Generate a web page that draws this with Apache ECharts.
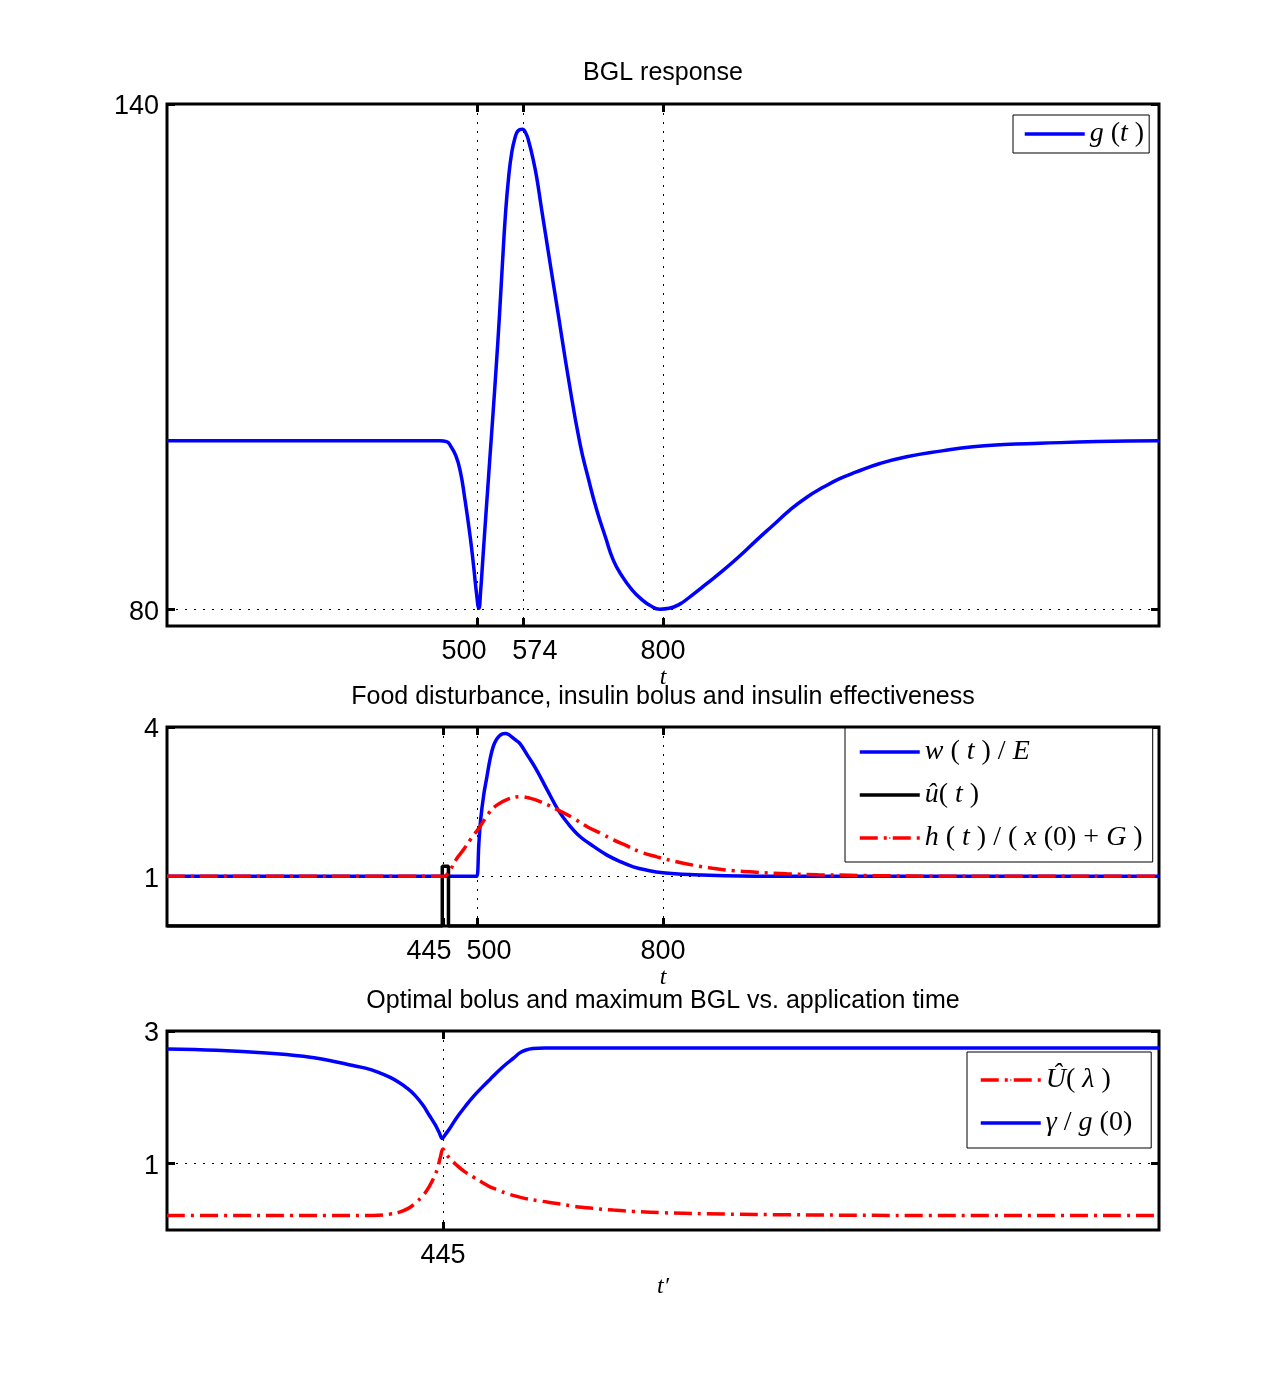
<!DOCTYPE html>
<html><head><meta charset="utf-8">
<script src="https://cdn.jsdelivr.net/npm/echarts@6/dist/echarts.min.js"></script>
<style>html,body{margin:0;padding:0;background:#fff}#c{width:1282px;height:1390px}</style>
</head><body><div id="c"></div>
<script>
// ---------- data ----------
const titles = ['BGL response', 'Food disturbance, insulin bolus and insulin effectiveness', 'Optimal bolus and maximum BGL vs. application time'];

// Panel 1: BGL response g(t)
const g_t = [0, 440, 451, 458, 466, 473, 480, 489, 495, 499, 503, 506, 509, 513, 517, 521, 526, 531, 536, 541, 546, 551, 556, 561, 566, 573, 579, 584, 590, 596, 604, 617, 630, 647, 666, 680, 693, 707, 720, 735, 750, 765, 780, 795, 810, 827, 844, 870, 897, 925, 951, 978, 1005, 1032, 1059, 1085, 1112, 1150, 1193, 1250, 1300, 1350, 1408, 1500, 1600];
const g_v = [100, 100, 99.9, 99.3, 98.2, 96.4, 93.3, 88.6, 84.8, 82.0, 80.1, 82.3, 85.5, 89.8, 94.0, 98.2, 103.4, 108.8, 114.6, 121.0, 127.0, 131.3, 134.2, 135.9, 136.8, 137.0, 136.5, 135.4, 133.6, 131.4, 127.6, 121.5, 115.5, 107.6, 99.7, 95.4, 91.8, 88.6, 85.8, 83.8, 82.3, 81.2, 80.4, 80.0, 80.1, 80.6, 81.5, 83.0, 84.6, 86.4, 88.2, 90.0, 91.8, 93.3, 94.5, 95.5, 96.3, 97.3, 98.1, 98.8, 99.3, 99.55, 99.7, 99.9, 100];

// Panel 2: w(t)/E, u^(t), h(t)/(x(0)+G)
const w_t = [0, 498, 500, 503, 506, 511, 516, 521, 526, 531, 536, 541, 546, 551, 556, 562, 569, 582, 596, 613, 631, 648, 666, 688, 709, 730, 752, 775, 800, 850, 900, 1000, 1600];
const w_v = [1, 1, 1, 1.65, 2.15, 2.65, 3.0, 3.35, 3.6, 3.74, 3.82, 3.86, 3.87, 3.85, 3.8, 3.74, 3.67, 3.42, 3.14, 2.74, 2.33, 2.04, 1.8, 1.6, 1.43, 1.3, 1.19, 1.12, 1.07, 1.03, 1.01, 1.0, 1.0];
const u_t = [0, 444, 444, 454, 454, 1600];
const u_v = [0, 0, 1.2, 1.2, 0, 0];
const h_t = [0, 448, 452, 458, 467, 478, 490, 505, 518, 532, 550, 569, 585, 602, 631, 655, 677, 700, 720, 742, 763, 790, 822, 850, 880, 915, 950, 1000, 1050, 1100, 1150, 1250, 1600];
const h_v = [1, 1, 1.04, 1.15, 1.35, 1.53, 1.75, 2.0, 2.25, 2.43, 2.55, 2.6, 2.57, 2.5, 2.33, 2.17, 2.0, 1.86, 1.73, 1.61, 1.49, 1.39, 1.29, 1.22, 1.16, 1.11, 1.08, 1.05, 1.03, 1.02, 1.01, 1.0, 1.0];

// Panel 3: U^(lambda), gamma/g(0)
const U_t = [0, 100, 200, 280, 333, 360, 375, 390, 400, 413, 422, 430, 436, 441, 445, 449, 456, 467, 480, 494, 508, 521, 535, 548, 575, 600, 629, 655, 683, 720, 752, 800, 900, 1000, 1200, 1600];
const U_v = [0.22, 0.22, 0.22, 0.22, 0.22, 0.24, 0.27, 0.33, 0.4, 0.52, 0.64, 0.78, 0.92, 1.1, 1.22, 1.16, 1.08, 0.98, 0.88, 0.8, 0.72, 0.65, 0.6, 0.55, 0.48, 0.44, 0.4, 0.36, 0.33, 0.3, 0.28, 0.26, 0.24, 0.23, 0.22, 0.22];
const G_t = [0, 80, 160, 220, 260, 300, 320, 340, 360, 375, 387, 400, 413, 423, 433, 439, 444, 449, 456, 467, 480, 494, 508, 521, 535, 548, 560, 569, 578, 590, 610, 1600];
const G_v = [2.73, 2.71, 2.67, 2.62, 2.56, 2.48, 2.44, 2.38, 2.30, 2.22, 2.14, 2.03, 1.88, 1.73, 1.58, 1.47, 1.38, 1.44, 1.53, 1.69, 1.85, 2.01, 2.15, 2.27, 2.4, 2.51, 2.6, 2.67, 2.71, 2.735, 2.745, 2.745];

// tick values
const x1Ticks = [500, 574, 800];
const x2Ticks = [445, 500, 800];
const x3Ticks = [445];
const y1Ticks = [80, 140];
const y2Ticks = [1, 4];
const y3Ticks = [1, 3];
const xRange = [0, 1600];
const y1Range = [78, 140];
const y2Range = [0, 4];
const y3Range = [0, 3];

// series names
const names = ['g(t)', 'w(t)/E', 'û(t)', 'h(t)/(x(0)+G)', 'Û(λ)', 'γ/g(0)'];

// ---------- rendering ----------
const zip = (a, b) => a.map((t, i) => [t, b[i]]);
const SANS = 'Liberation Sans, Arial, sans-serif';
const SERIF = 'Liberation Serif, Times New Roman, serif';
const MATH = 28;
const rich = {
  i: {fontFamily: SERIF, fontStyle: 'italic', fontSize: MATH, color: '#000', lineHeight: 28},
  n: {fontFamily: SERIF, fontStyle: 'normal', fontSize: MATH, color: '#000', lineHeight: 28}
};
const legendText = {
  'g(t)': '{i|g}{n| (}{i|t}{n| )}',
  'w(t)/E': '{i|w}{n| ( }{i|t}{n| ) / }{i|E}',
  'û(t)': '{i|û}{n|( }{i|t}{n| )}',
  'h(t)/(x(0)+G)': '{i|h}{n| ( }{i|t}{n| ) / ( }{i|x}{n| (0) + }{i|G}{n| )}',
  'Û(λ)': '{i|Û}{n|( }{i|λ}{n| )}',
  'γ/g(0)': '{i|γ}{n| / }{i|g}{n| (0)}'
};

const grids = [
  {left: 167, top: 104, width: 992, height: 522},
  {left: 167, top: 727, width: 992, height: 199},
  {left: 167, top: 1031, width: 992, height: 199}
].map(g => Object.assign(g, {show: true, borderColor: '#000', borderWidth: 3, backgroundColor: 'transparent', containLabel: false, outerBoundsMode: 'none'}));

const TICK = {show: true, inside: true, length: 8, lineStyle: {color: '#000', width: 3}};
const NOLINE = {show: false, onZero: false};
const gridLine = {show: true, lineStyle: {color: '#000', width: 1, type: [2, 7]}};
const labelFont = {color: '#000', fontFamily: SANS, fontSize: 27};

function xAxes(gi, ticks, shifts, name, nameGap) {
  const r = {};
  ticks.forEach((v, k) => {
    const s = shifts[k];
    r['s' + k] = Object.assign({}, labelFont, {padding: s < 0 ? [0, -2 * s, 0, 0] : [0, 0, 0, 2 * s]});
  });
  return [{
    gridIndex: gi, type: 'value', min: xRange[0], max: xRange[1], position: 'bottom',
    axisLine: NOLINE,
    axisTick: Object.assign({customValues: ticks}, TICK),
    axisLabel: Object.assign({show: true, customValues: ticks, margin: 12, rich: r,
      formatter: v => { const k = ticks.indexOf(v); return '{s' + k + '|' + v + '}'; }}, labelFont),
    splitLine: gridLine,
    name: name, nameLocation: 'middle', nameGap: nameGap,
    nameTextStyle: {color: '#000', fontFamily: SERIF, fontStyle: 'italic', fontSize: 24,
      rich: {i: {fontFamily: SERIF, fontStyle: 'italic', fontSize: 24, color: '#000'}, p: {fontFamily: SERIF, fontSize: 24, color: '#000'}}}
  }, {
    gridIndex: gi, type: 'value', min: xRange[0], max: xRange[1], position: 'top',
    axisLine: NOLINE,
    axisTick: Object.assign({customValues: ticks}, TICK),
    axisLabel: {show: false}, splitLine: {show: false}
  }];
}
function yAxes(gi, range, ticks) {
  return [{
    gridIndex: gi, type: 'value', min: range[0], max: range[1], position: 'left',
    axisLine: NOLINE,
    axisTick: Object.assign({customValues: ticks}, TICK),
    axisLabel: Object.assign({show: true, customValues: ticks, margin: 8,
      formatter: v => '{a|' + v + '}', rich: {a: Object.assign({padding: [6, 0, 0, 0]}, labelFont)}}, labelFont),
    splitLine: gridLine
  }, {
    gridIndex: gi, type: 'value', min: range[0], max: range[1], position: 'right',
    axisLine: NOLINE,
    axisTick: Object.assign({customValues: ticks}, TICK),
    axisLabel: {show: false}, splitLine: {show: false}
  }];
}

const xAxis = [].concat(
  xAxes(0, x1Ticks, [-13, 12, 0], 't', 40),
  xAxes(1, x2Ticks, [-14, 12, 0], 't', 39),
  xAxes(2, x3Ticks, [0], '{i|t}{p|′}', 45)
);
const yAxis = [].concat(yAxes(0, y1Range, y1Ticks), yAxes(1, y2Range, y2Ticks), yAxes(2, y3Range, y3Ticks));

const BLUE = '#0000ff', RED = '#ff0000', BLACK = '#000000';
const LW = 3.5;
const dashDot = [18, 6, 3, 6];
function line(name, xi, data, color, type, smooth, z) {
  return {
    name: name, type: 'line', xAxisIndex: xi, yAxisIndex: xi, data: data,
    symbol: 'none', smooth: smooth, z: z, silent: true,
    lineStyle: {color: color, width: LW, type: type},
    itemStyle: {color: color}
  };
}
const series = [
  line(names[0], 0, zip(g_t, g_v), BLUE, 'solid', 0.5, 3),
  line(names[1], 2, zip(w_t, w_v), BLUE, 'solid', 0.4, 3),
  line(names[2], 2, zip(u_t, u_v), BLACK, 'solid', false, 4),
  line(names[3], 2, zip(h_t, h_v), RED, dashDot, 0.4, 5),
  line(names[4], 4, zip(U_t, U_v), RED, dashDot, 0.4, 3),
  line(names[5], 4, zip(G_t, G_v), BLUE, 'solid', 0.4, 4)
];

function legend(data, left, top, padding) {
  return {
    data: data, orient: 'vertical', left: left, top: top, padding: padding,
    itemGap: 15, itemWidth: 60, itemHeight: 2,
    backgroundColor: '#fff', borderColor: '#000', borderWidth: 1, borderRadius: 0,
    selectedMode: false, formatter: n => legendText[n],
    lineStyle: {width: LW},
    textStyle: {color: '#000', fontFamily: SERIF, fontSize: MATH, lineHeight: 28, rich: rich}
  };
}

const titleStyle = {fontSize: 25, fontWeight: 'normal', color: '#000', fontFamily: SANS};
const option = {
  animation: false,
  backgroundColor: '#fff',
  title: [
    {text: titles[0], left: 663, top: 61, textAlign: 'center', padding: 0, textStyle: titleStyle},
    {text: titles[1], left: 663, top: 685, textAlign: 'center', padding: 0, textStyle: titleStyle},
    {text: titles[2], left: 663, top: 989, textAlign: 'center', padding: 0, textStyle: titleStyle}
  ],
  grid: grids,
  xAxis: xAxis,
  yAxis: yAxis,
  legend: [
    legend([names[0]], 1013, 115, [5, 5, 5, 10]),
    legend([names[1], names[2], names[3]], 845, 728, [10, 10, 10, 13]),
    legend([names[4], names[5]], 967, 1052, [14, 19, 11, 12])
  ],
  series: series
};
const chart = echarts.init(document.getElementById('c'), null, {renderer: 'canvas'});
chart.setOption(option);
</script></body></html>
